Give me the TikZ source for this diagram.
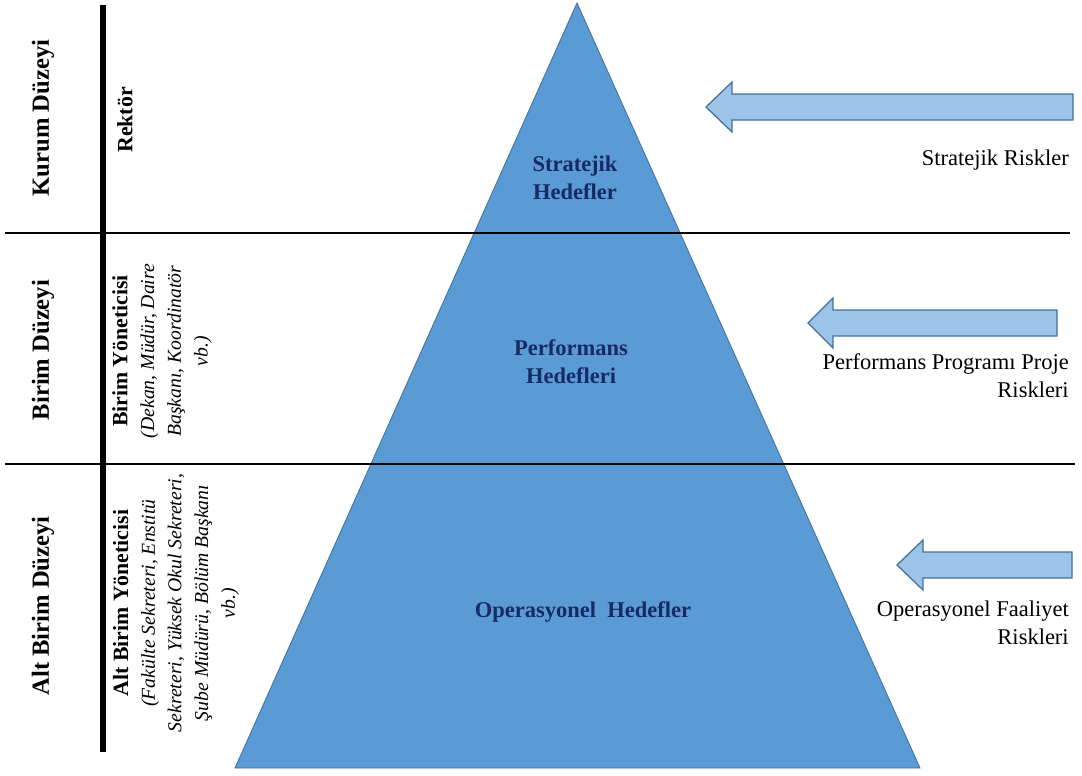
\documentclass[tikz,border=0pt]{standalone}
\usepackage{fontspec}
\setmainfont{Liberation Serif}

\definecolor{pyrblue}{RGB}{91,155,213}
\definecolor{pyredge}{RGB}{65,113,156}
\definecolor{arrblue}{RGB}{157,195,230}
\definecolor{navytext}{RGB}{22,42,100}

\newcommand{\rolehead}[1]{{\fontsize{15.5}{19}\selectfont\bfseries #1}}

\begin{document}
\begin{tikzpicture}[x=0.025cm, y=-0.025cm,
    level/.style={rotate=90, font=\fontsize{17.5}{21}\selectfont\bfseries},
    role/.style={rotate=90, align=center, font=\fontsize{14}{19}\selectfont},
    goal/.style={align=center, text=navytext, font=\fontsize{16}{20}\selectfont\bfseries},
    risk/.style={align=right, anchor=east, inner sep=0pt, font=\fontsize{16}{20}\selectfont},
    riskarrow/.style={draw=pyredge, fill=arrblue, line width=0.9pt}]
    \useasboundingbox (0,0) rectangle (1082,775);

    \coordinate (apex) at (577,3);
    \coordinate (baseL) at (235,768);
    \coordinate (baseR) at (920,768);

    % pyramid
    \filldraw[fill=pyrblue, draw=pyredge, line width=0.6pt] (apex) -- (baseL) -- (baseR) -- cycle;

    % level lines
    \draw[line width=1.4pt] (5,233) -- (1070,233);
    \draw[line width=1.4pt] (5,464) -- (1075,464);
    \draw[line width=3.6pt] (103,5) -- (103,752);

    % risk arrows
    \foreach \tx/\ty/\hx/\rx in {706/107/732/1073, 808/323/833/1057, 897/565/923/1072}
        \filldraw[riskarrow] (\tx,\ty) -- (\hx,\ty-25) -- (\hx,\ty-13) -- (\rx,\ty-13)
            -- (\rx,\ty+13) -- (\hx,\ty+13) -- (\hx,\ty+25) -- cycle;

    \node[level] (kurum) at (43,118) {Kurum Düzeyi};
    \node[level] (birim) at (43,350) {Birim Düzeyi};
    \node[level] (altbirim) at (43,606) {Alt Birim Düzeyi};

    \node[role] (rektor) at (125,120) {\rolehead{Rektör}};
    \node[role] (birimyon) at (162,351) {\rolehead{Birim Yöneticisi}\\\textit{(Dekan, Müdür, Daire}\\\textit{Başkanı, Koordinatör}\\\textit{vb.)}};
    \node[role] (altyon) at (176,603) {\rolehead{Alt Birim Yöneticisi}\\\textit{(Fakülte Sekreteri, Enstitü}\\\textit{Sekreteri, Yüksek Okul Sekreteri,}\\\textit{Şube Müdürü, Bölüm Başkanı}\\\textit{vb.)}};

    \node[goal] (stratejik) at (575,178) {Stratejik\\Hedefler};
    \node[goal] (performans) at (571,362) {Performans\\Hedefleri};
    \node[goal] (operasyonel) at (583,612) {Operasyonel\ \ Hedefler};

    \node[risk] (srisk) at (1069,160) {Stratejik Riskler};
    \node[risk] (prisk) at (1069,376) {Performans Programı Proje\\Riskleri};
    \node[risk] (orisk) at (1069,623) {Operasyonel Faaliyet\\Riskleri};

\end{tikzpicture}
\end{document}
